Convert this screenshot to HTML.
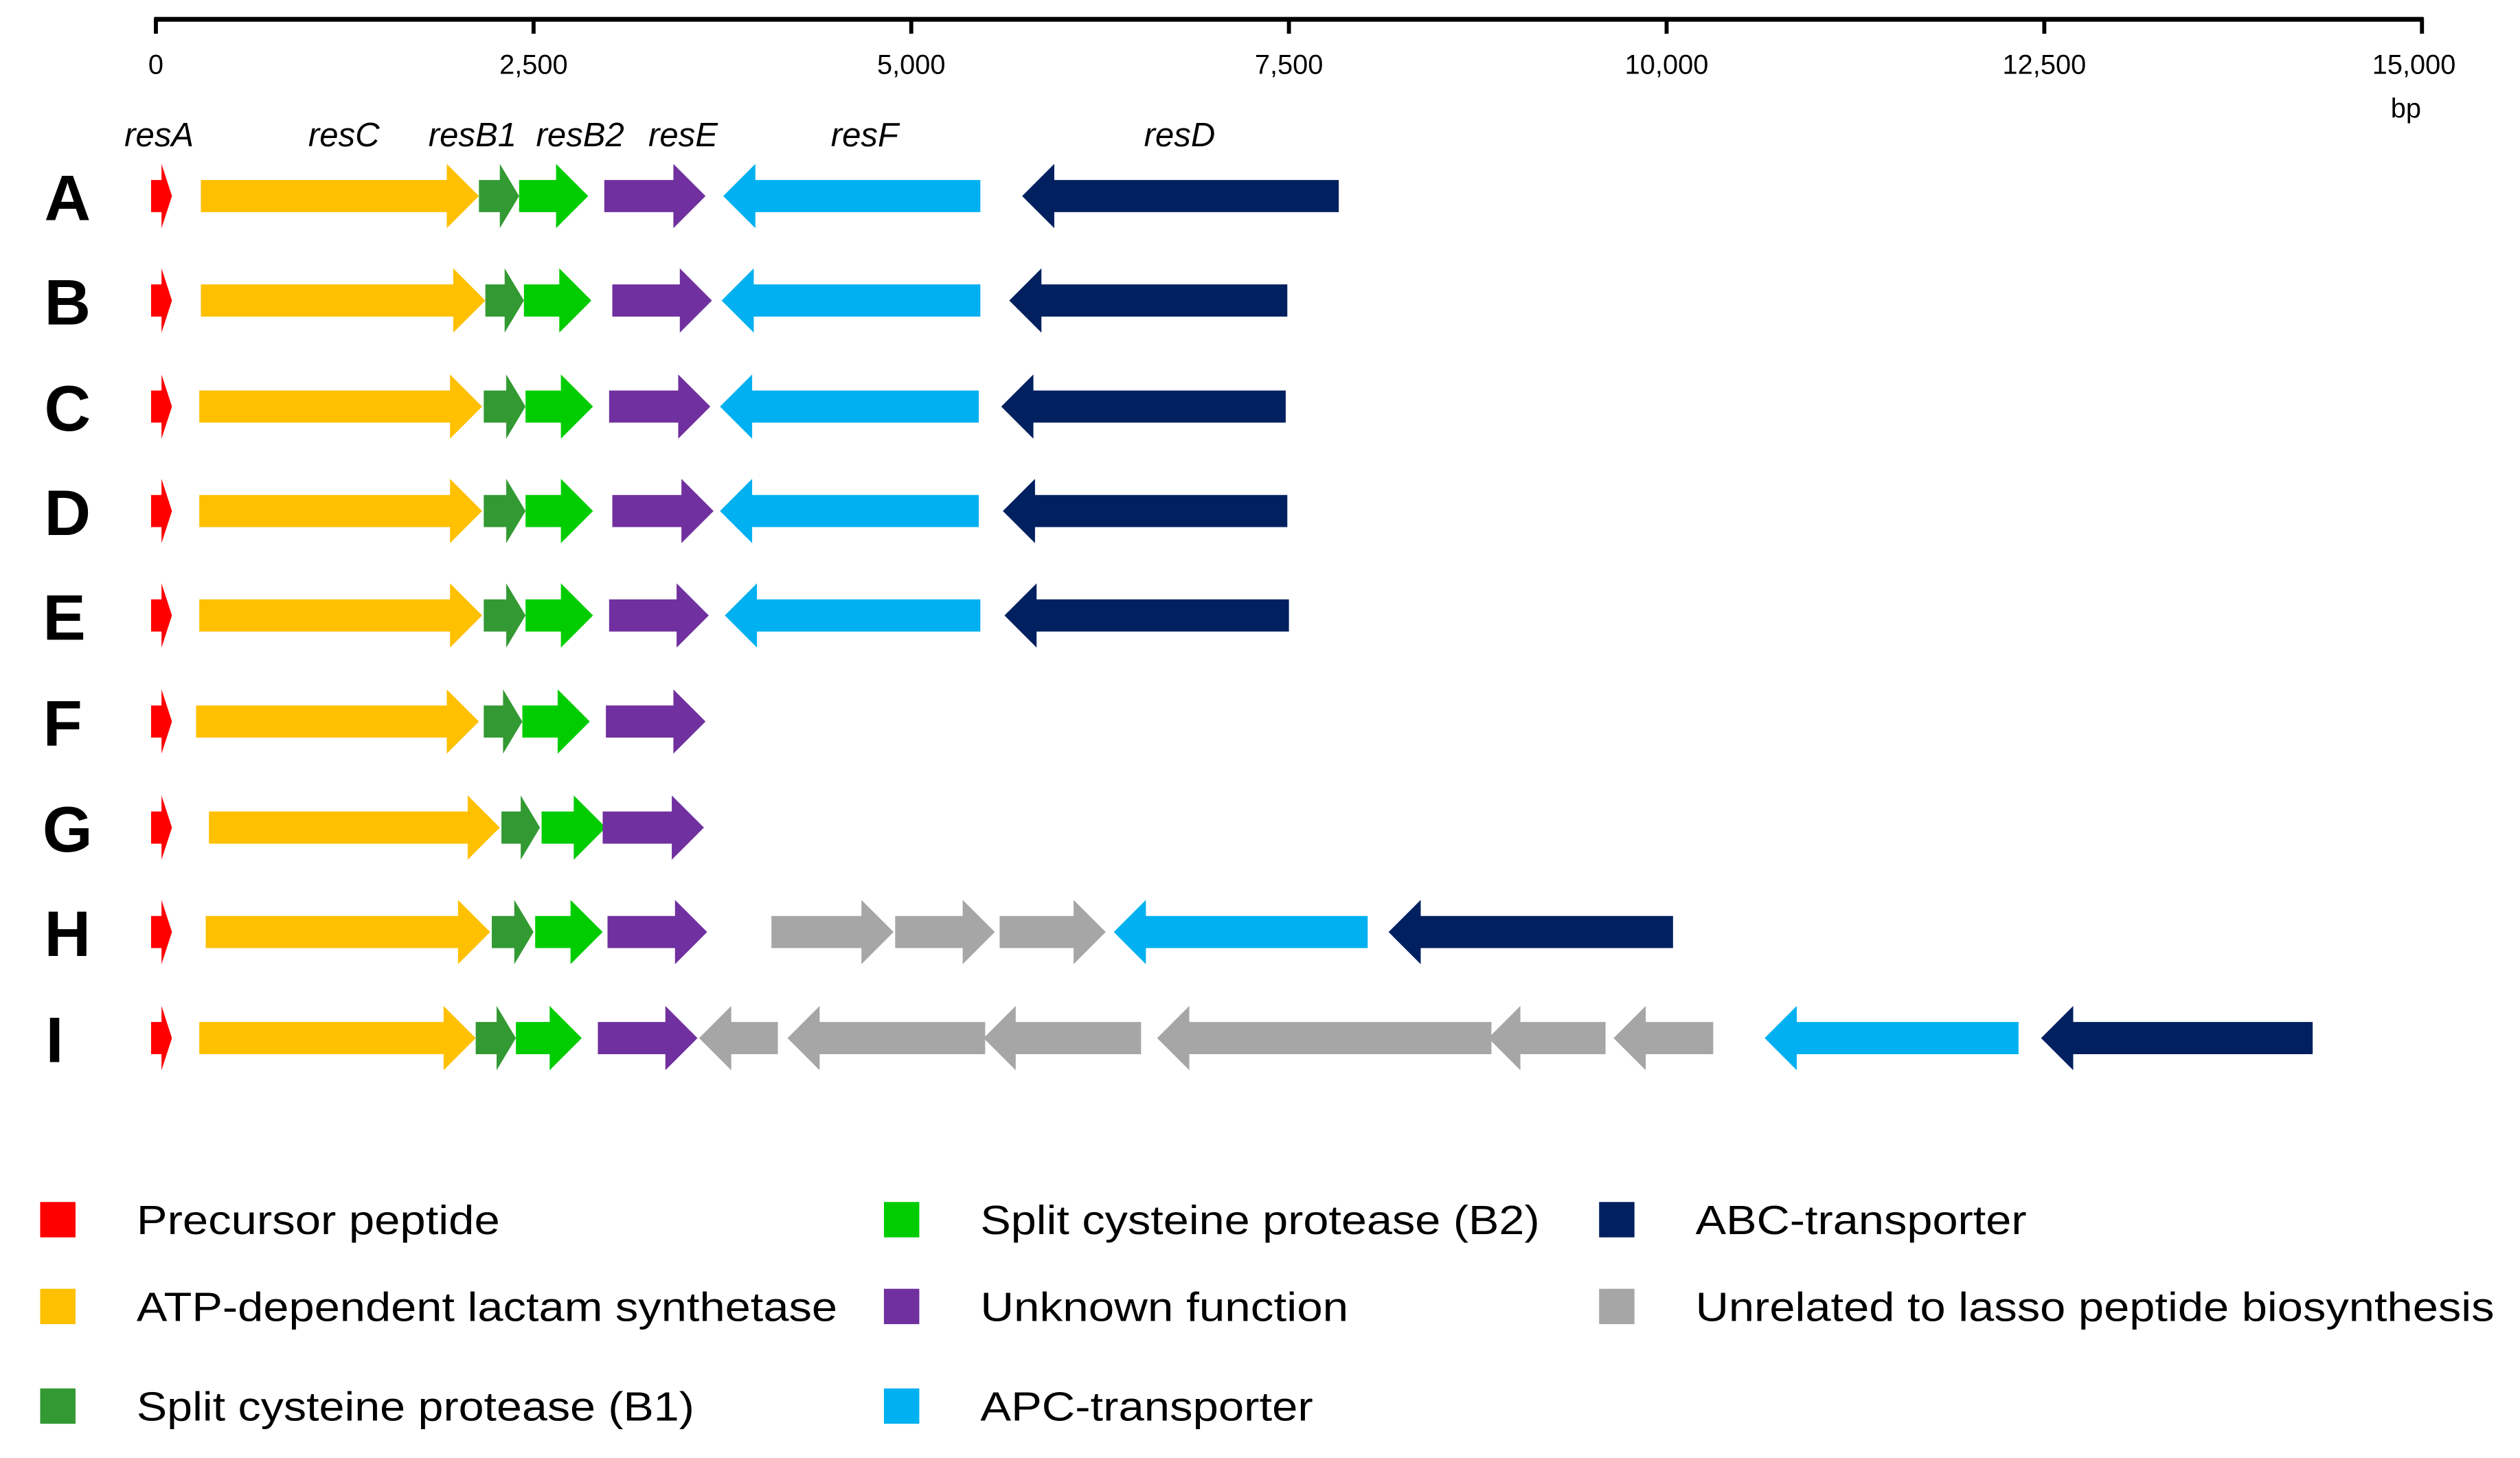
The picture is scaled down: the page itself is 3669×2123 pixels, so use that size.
<!DOCTYPE html>
<html><head><meta charset="utf-8"><style>
html,body{margin:0;padding:0;background:#fff;}
svg{display:block;}
text{font-family:"Liberation Sans",sans-serif;fill:#000;}
</style></head><body>
<svg id="s" xmlns="http://www.w3.org/2000/svg" width="3669" height="2123" viewBox="0 0 1568 907.3" preserveAspectRatio="none">
<rect width="1568" height="908" fill="#fff"/>
<line x1="96" y1="12" x2="1508" y2="12" stroke="#000" stroke-width="3"/>
<g stroke="#000" stroke-width="2.5">
<line x1="97" y1="11" x2="97" y2="21"/><line x1="332" y1="11" x2="332" y2="21"/><line x1="567" y1="11" x2="567" y2="21"/><line x1="802" y1="11" x2="802" y2="21"/><line x1="1037" y1="11" x2="1037" y2="21"/><line x1="1272" y1="11" x2="1272" y2="21"/><line x1="1507" y1="11" x2="1507" y2="21"/>
</g>
<g font-size="17" text-anchor="middle">
<text x="97" y="46">0</text><text x="332" y="46">2,500</text><text x="567" y="46">5,000</text><text x="802" y="46">7,500</text><text x="1037" y="46">10,000</text><text x="1272" y="46">12,500</text><text x="1502" y="46">15,000</text><text x="1497" y="73">bp</text>
</g>
<g font-size="21" font-style="italic" text-anchor="middle">
<text x="99" y="91">resA</text><text x="214" y="91">resC</text><text x="294" y="91">resB1</text><text x="361" y="91">resB2</text><text x="425" y="91">resE</text><text x="538" y="91">resF</text><text x="734" y="91">resD</text>
</g>
<g font-size="40" font-weight="bold" text-anchor="middle">
<text x="42" y="137">A</text><text x="42" y="202">B</text><text x="42" y="268">C</text><text x="42" y="333">D</text><text x="40" y="398">E</text><text x="39" y="464">F</text><text x="42" y="530">G</text><text x="42" y="595">H</text><text x="34" y="661">I</text>
</g>
<g id="arrows"></g>
<g>
<rect x="25" y="748" width="22" height="22" fill="#ff0000"/>
<rect x="25" y="802" width="22" height="22" fill="#ffc000"/>
<rect x="25" y="864" width="22" height="22" fill="#339933"/>
<rect x="550" y="748" width="22" height="22" fill="#00cc00"/>
<rect x="550" y="802" width="22" height="22" fill="#7030a0"/>
<rect x="550" y="864" width="22" height="22" fill="#00b0f0"/>
<rect x="995" y="748" width="22" height="22" fill="#002060"/>
<rect x="995" y="802" width="22" height="22" fill="#a6a6a6"/>
</g>
<g font-size="25.5">
<text x="85" y="768" textLength="226" lengthAdjust="spacingAndGlyphs">Precursor peptide</text>
<text x="85" y="822" textLength="436" lengthAdjust="spacingAndGlyphs">ATP-dependent lactam synthetase</text>
<text x="85" y="884" textLength="347" lengthAdjust="spacingAndGlyphs">Split cysteine protease (B1)</text>
<text x="610" y="768" textLength="348" lengthAdjust="spacingAndGlyphs">Split cysteine protease (B2)</text>
<text x="610" y="822" textLength="229" lengthAdjust="spacingAndGlyphs">Unknown function</text>
<text x="610" y="884" textLength="207" lengthAdjust="spacingAndGlyphs">APC-transporter</text>
<text x="1055" y="768" textLength="206" lengthAdjust="spacingAndGlyphs">ABC-transporter</text>
<text x="1055" y="822" textLength="497" lengthAdjust="spacingAndGlyphs">Unrelated to lasso peptide biosynthesis</text>
</g>
</svg>
<script>
var C={r:"#ff0000",y:"#ffc000",d:"#339933",g:"#00cc00",p:"#7030a0",c:"#00b0f0",n:"#002060",a:"#a6a6a6"};
var rows=[
[122,[["r",94,107,"R"],["y",125,298,"R"],["d",298,323,"R"],["g",323,366,"R"],["p",376,439,"R"],["c",450,610,"L"],["n",636,833,"L"]]],
[187,[["r",94,107,"R"],["y",125,302,"R"],["d",302,326,"R"],["g",326,368,"R"],["p",381,443,"R"],["c",449,610,"L"],["n",628,801,"L"]]],
[253,[["r",94,107,"R"],["y",124,300,"R"],["d",301,327,"R"],["g",327,369,"R"],["p",379,442,"R"],["c",448,609,"L"],["n",623,800,"L"]]],
[318,[["r",94,107,"R"],["y",124,300,"R"],["d",301,327,"R"],["g",327,369,"R"],["p",381,444,"R"],["c",448,609,"L"],["n",624,801,"L"]]],
[383,[["r",94,107,"R"],["y",124,300,"R"],["d",301,327,"R"],["g",327,369,"R"],["p",379,441,"R"],["c",451,610,"L"],["n",625,802,"L"]]],
[449,[["r",94,107,"R"],["y",122,298,"R"],["d",301,325,"R"],["g",325,367,"R"],["p",377,439,"R"]]],
[515,[["r",94,107,"R"],["y",130,311,"R"],["d",312,336,"R"],["g",337,377,"R"],["p",375,438,"R"]]],
[580,[["r",94,107,"R"],["y",128,305,"R"],["d",306,332,"R"],["g",333,375,"R"],["p",378,440,"R"],["a",480,556,"R"],["a",557,619,"R"],["a",622,688,"R"],["c",693,851,"L"],["n",864,1041,"L"]]],
[646,[["r",94,107,"R"],["y",124,296,"R"],["d",296,321,"R"],["g",321,362,"R"],["p",372,434,"R"],["a",435,484,"L"],["a",490,613,"L"],["a",612,710,"L"],["a",720,928,"L"],["a",926,999,"L"],["a",1004,1066,"L"],["c",1098,1256,"L"],["n",1270,1439,"L"]]]
];
var out="";
rows.forEach(function(r){var y=r[0];r[1].forEach(function(a){
 var k=a[0],x1=a[1],x2=a[2],h=k=="r"?6.5:(k=="d"?12:20);var p;
 if(a[3]=="R"){var b=x2-h;p=[[x1,y-10],[b,y-10],[b,y-20],[x2,y],[b,y+20],[b,y+10],[x1,y+10]];}
 else{var b=x1+h;p=[[x2,y-10],[b,y-10],[b,y-20],[x1,y],[b,y+20],[b,y+10],[x2,y+10]];}
 out+='<polygon fill="'+C[k]+'" points="'+p.map(function(q){return q[0]+","+q[1]}).join(" ")+'"/>';
});});
document.getElementById("arrows").innerHTML=out;
</script>
</body></html>
